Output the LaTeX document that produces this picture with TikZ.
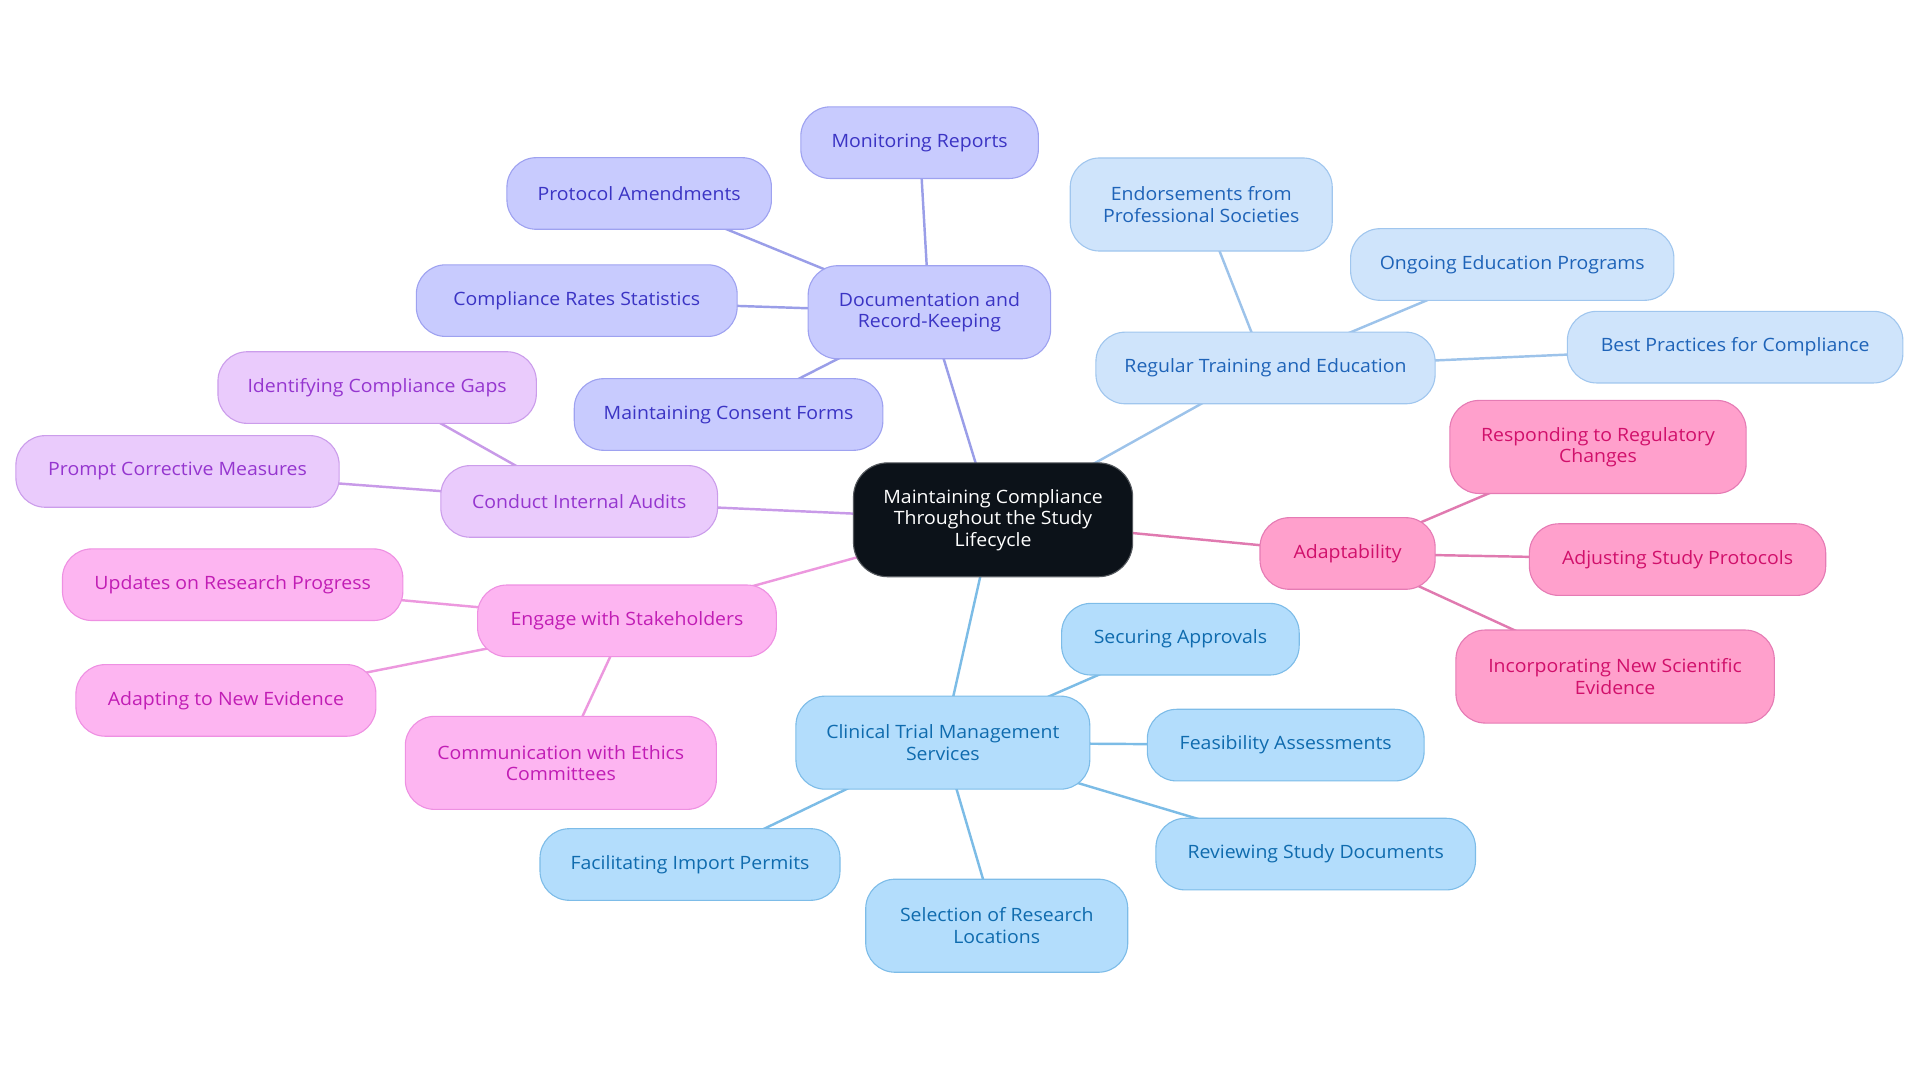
\documentclass[tikz,border=0pt]{standalone}
\usepackage{fontspec}
\setmainfont{Open Sans}[FakeStretch=1.06]
\usetikzlibrary{positioning}
\pgfdeclarelayer{background}
\pgfsetlayers{background,main}
\definecolor{docF}{HTML}{C8CBFE}\definecolor{docD}{HTML}{9EA2F0}\definecolor{docT}{HTML}{3B34C4}\definecolor{docE}{HTML}{9A9EE8}
\definecolor{trnF}{HTML}{CFE4FB}\definecolor{trnD}{HTML}{A0C6EE}\definecolor{trnT}{HTML}{1E63B8}\definecolor{trnE}{HTML}{9DC3EA}
\definecolor{adaF}{HTML}{FFA0CC}\definecolor{adaD}{HTML}{E57BB4}\definecolor{adaT}{HTML}{D1106B}\definecolor{adaE}{HTML}{E07AB0}
\definecolor{cliF}{HTML}{B3DDFC}\definecolor{cliD}{HTML}{7DBCE8}\definecolor{cliT}{HTML}{0F6BAE}\definecolor{cliE}{HTML}{7CBCE6}
\definecolor{engF}{HTML}{FDB5F1}\definecolor{engD}{HTML}{EE90E2}\definecolor{engT}{HTML}{C11DB5}\definecolor{engE}{HTML}{EC98DE}
\definecolor{audF}{HTML}{EACBFC}\definecolor{audD}{HTML}{CB9DEB}\definecolor{audT}{HTML}{9536CF}\definecolor{audE}{HTML}{C89AE8}
\definecolor{rootF}{HTML}{0C1219}
\begin{document}
\begin{tikzpicture}[x=1pt,y=-1pt,
  box/.style={rectangle, rounded corners=24pt, align=center, inner sep=0pt,
    font=\fontsize{15}{17.5}\selectfont, line width=0.9pt},
  one/.style={box, minimum height=58.5pt},
  two/.style={box, minimum height=76pt},
  doc/.style={fill=docF, draw=docD, text=docT},
  trn/.style={fill=trnF, draw=trnD, text=trnT},
  ada/.style={fill=adaF, draw=adaD, text=adaT},
  cli/.style={fill=cliF, draw=cliD, text=cliT},
  eng/.style={fill=engF, draw=engD, text=engT},
  aud/.style={fill=audF, draw=audD, text=audT},
  link/.style={line width=2pt},
]
\useasboundingbox (0,0) rectangle (1568,884);
% root
\node[box, rounded corners=28pt, fill=rootF, draw=rootF!70!white, text=white, minimum width=228pt, minimum height=93pt] (root) at (811,424.5) {Maintaining Compliance\\Throughout the Study\\Lifecycle};
% documentation
\node[two, doc, minimum width=198pt] (doc) at (759,255) {Documentation and\\Record-Keeping};
\node[one, doc, minimum width=194pt] (mon) at (751,116.5) {Monitoring Reports};
\node[one, doc, minimum width=216pt] (prot) at (522,158) {Protocol Amendments};
\node[one, doc, minimum width=262pt] (comp) at (471,245.5) {Compliance Rates Statistics};
\node[one, doc, minimum width=252pt] (cons) at (595,338.5) {Maintaining Consent Forms};
% training
\node[one, trn, minimum width=277pt] (train) at (1033.5,300.5) {Regular Training and Education};
\node[two, trn, minimum width=214pt] (endo) at (981,167) {Endorsements from\\Professional Societies};
\node[one, trn, minimum width=264pt] (ongo) at (1235,216) {Ongoing Education Programs};
\node[one, trn, minimum width=274pt] (best) at (1417,283.5) {Best Practices for Compliance};
% adaptability
\node[one, ada, minimum width=143pt] (adapt) at (1100.5,452) {Adaptability};
\node[two, ada, minimum width=242pt] (resp) at (1305,365) {Responding to Regulatory\\Changes};
\node[one, ada, minimum width=242pt] (adj) at (1370,457) {Adjusting Study Protocols};
\node[two, ada, minimum width=260pt] (inc) at (1319,552.5) {Incorporating New Scientific\\Evidence};
% clinical
\node[two, cli, minimum width=240pt] (clin) at (770,606.5) {Clinical Trial Management\\Services};
\node[one, cli, minimum width=194pt] (sec) at (964,522) {Securing Approvals};
\node[one, cli, minimum width=226pt] (feas) at (1050,608.5) {Feasibility Assessments};
\node[one, cli, minimum width=261pt] (rev) at (1074.5,697.5) {Reviewing Study Documents};
\node[two, cli, minimum width=214pt] (sel) at (814,756) {Selection of Research\\Locations};
\node[one, cli, minimum width=245pt] (fac) at (563.5,706) {Facilitating Import Permits};
% engage
\node[one, eng, minimum width=244pt] (eng) at (512,507) {Engage with Stakeholders};
\node[one, eng, minimum width=278pt] (upd) at (190,477.5) {Updates on Research Progress};
\node[one, eng, minimum width=245pt] (adpt) at (184.5,572) {Adapting to New Evidence};
\node[two, eng, minimum width=254pt] (comm) at (458,623) {Communication with Ethics\\Committees};
% audits
\node[one, aud, minimum width=226pt] (audit) at (473,409.5) {Conduct Internal Audits};
\node[one, aud, minimum width=260pt] (gaps) at (308,316.5) {Identifying Compliance Gaps};
\node[one, aud, minimum width=264pt] (prompt) at (145,385) {Prompt Corrective Measures};
\begin{pgfonlayer}{background}
\draw[link, docE] (root.center) -- (doc.center);
\foreach \n in {mon,prot,comp,cons} \draw[link, docE] (doc.center) -- (\n.center);
\draw[link, trnE] (root.center) -- (train.center);
\foreach \n in {endo,ongo,best} \draw[link, trnE] (train.center) -- (\n.center);
\draw[link, adaE] (root.center) -- (adapt.center);
\foreach \n in {resp,adj,inc} \draw[link, adaE] (adapt.center) -- (\n.center);
\draw[link, cliE] (root.center) -- (clin.center);
\foreach \n in {sec,feas,rev,sel,fac} \draw[link, cliE] (clin.center) -- (\n.center);
\draw[link, engE] (root.center) -- (eng.center);
\foreach \n in {upd,adpt,comm} \draw[link, engE] (eng.center) -- (\n.center);
\draw[link, audE] (root.center) -- (audit.center);
\foreach \n in {gaps,prompt} \draw[link, audE] (audit.center) -- (\n.center);
\end{pgfonlayer}
\end{tikzpicture}
\end{document}
